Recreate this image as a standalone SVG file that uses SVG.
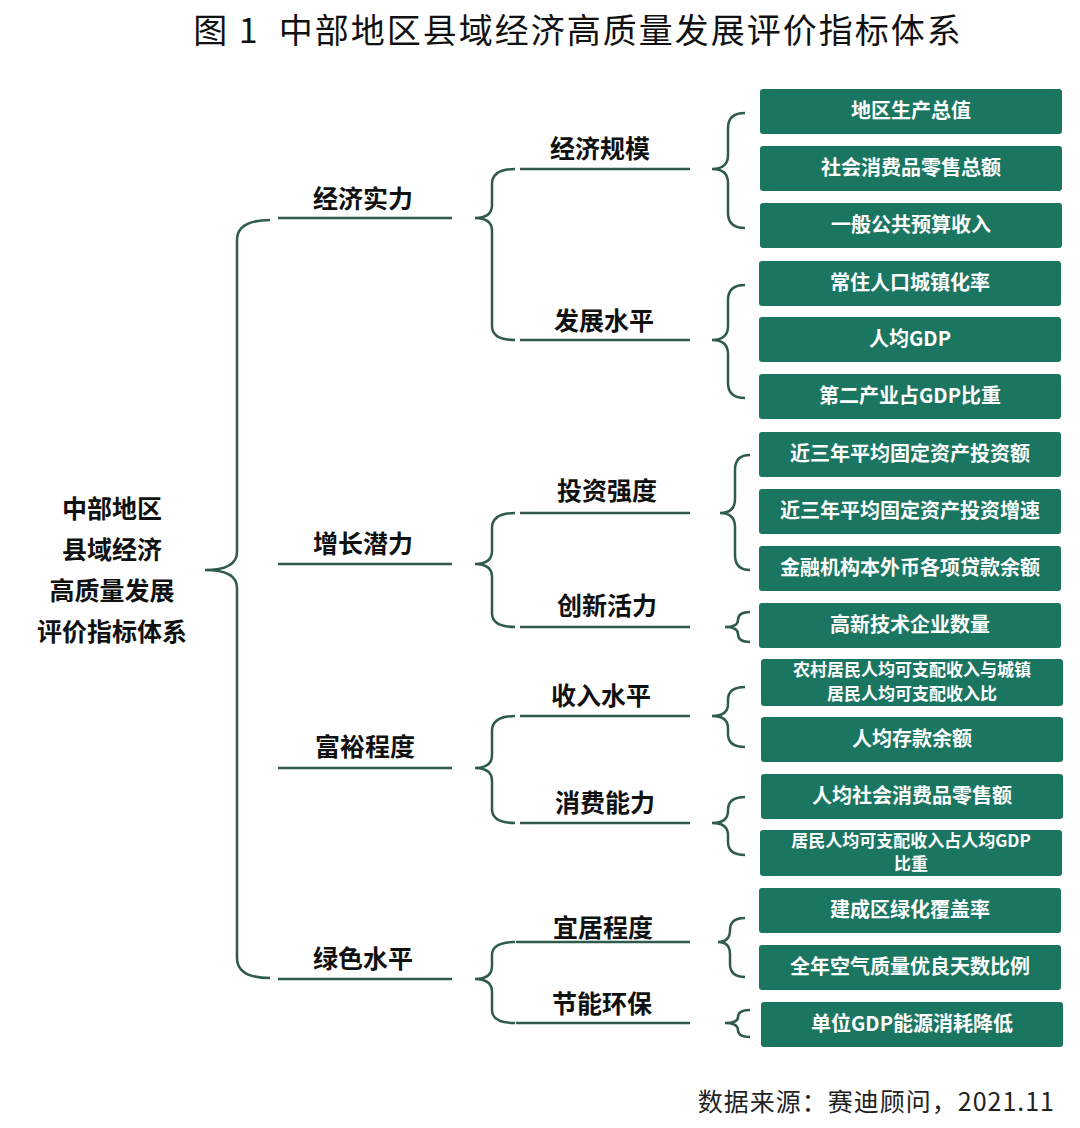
<svg xmlns="http://www.w3.org/2000/svg" width="1080" height="1128" viewBox="0 0 1080 1128">
<style>
.t{font-family:"Noto Sans CJK SC",sans-serif;font-weight:bold;fill:#111;text-anchor:middle}
.b{fill:#1b7661}
.bt{font-family:"Noto Sans CJK SC",sans-serif;font-weight:bold;fill:#fff;text-anchor:middle;font-size:20px}
.bs{font-size:17px}
.br{fill:none;stroke:#2f5a4e;stroke-width:2.5}
.ln{stroke:#2f5a4e;stroke-width:2.5}
</style>
<rect width="1080" height="1128" fill="#fff"/>
<text x="578" y="43" font-family="Noto Sans CJK SC,sans-serif" font-size="34" letter-spacing="2" text-anchor="middle" fill="#111" xml:space="preserve">图 1  中部地区县域经济高质量发展评价指标体系</text>
<g id="root" class="t" font-size="25"><text x="112" y="518">中部地区</text><text x="112" y="559">县域经济</text><text x="112" y="600">高质量发展</text><text x="112" y="641">评价指标体系</text></g>
<g id="connectors">
<path class="br" d="M270,220 Q237,220 237,240 L237,552 Q237,570 205,570 Q237,570 237,588 L237,958 Q237,978 270,978"/>
<line class="ln" x1="278" y1="218" x2="452" y2="218"/><line class="ln" x1="278" y1="564" x2="452" y2="564"/><line class="ln" x1="278" y1="768" x2="452" y2="768"/><line class="ln" x1="278" y1="979" x2="452" y2="979"/>
<path class="br" d="M515,169 Q492,169 492,184 L492,205 Q492,218 475,218 Q492,218 492,231 L492,326 Q492,340 515,340"/>
<path class="br" d="M515,513 Q492,513 492,528 L492,551 Q492,564 475,564 Q492,564 492,577 L492,613 Q492,627 515,627"/>
<path class="br" d="M515,716 Q492,716 492,731 L492,755 Q492,768 475,768 Q492,768 492,781 L492,809 Q492,823 515,823"/>
<path class="br" d="M515,942 Q492,942 492,955 L492,966 Q492,979 475,979 Q492,979 492,992 L492,1010 Q492,1023 515,1023"/>
<line class="ln" x1="520" y1="169" x2="690" y2="169"/><line class="ln" x1="520" y1="340" x2="690" y2="340"/><line class="ln" x1="520" y1="513" x2="690" y2="513"/><line class="ln" x1="520" y1="627" x2="690" y2="627"/><line class="ln" x1="520" y1="716" x2="690" y2="716"/><line class="ln" x1="520" y1="823" x2="690" y2="823"/><line class="ln" x1="516" y1="942" x2="690" y2="942"/><line class="ln" x1="516" y1="1023" x2="690" y2="1023"/>
<path class="br" d="M745,113 Q728,113 728,128 L728,155 Q728,169 712,169 Q728,169 728,183 L728,213 Q728,228 745,228"/>
<path class="br" d="M745,285 Q728,285 728,300 L728,326 Q728,340 712,340 Q728,340 728,354 L728,383 Q728,398 745,398"/>
<path class="br" d="M750,455 Q735,455 735,470 L735,499 Q735,513 720,513 Q735,513 735,527 L735,555 Q735,570 750,570"/>
<path class="br" d="M750,612 Q738,612 738,620 Q738,627 725,627 Q738,627 738,634 Q738,642 750,642"/>
<path class="br" d="M745,687 Q728,687 728,700 L728,704 Q728,716 712,716 Q728,716 728,728 L728,734 Q728,747 745,747"/>
<path class="br" d="M745,797 Q728,797 728,810 L728,811 Q728,823 712,823 Q728,823 728,835 L728,842 Q728,855 745,855"/>
<path class="br" d="M745,918 Q730,918 730,930 Q730,942 718,942 Q730,942 730,954 L730,964 Q730,977 745,977"/>
<path class="br" d="M750,1010 Q738,1010 738,1017 Q738,1023 725,1023 Q738,1023 738,1030 Q738,1037 750,1037"/>
</g>
<g class="t" font-size="25">
<text id="l1a" x="363" y="208">经济实力</text><text id="l1b" x="363" y="553">增长潜力</text><text id="l1c" x="365" y="756">富裕程度</text><text id="l1d" x="363" y="968">绿色水平</text>
<text id="l2a" x="600" y="158">经济规模</text><text id="l2b" x="604" y="330">发展水平</text><text id="l2c" x="607" y="500">投资强度</text><text id="l2d" x="607" y="615">创新活力</text><text id="l2e" x="601" y="705">收入水平</text><text id="l2f" x="605" y="812">消费能力</text><text id="l2g" x="603" y="937">宜居程度</text><text id="l2h" x="602" y="1013">节能环保</text>
</g>
<g id="b1"><rect class="b" x="760" y="89" width="302" height="45" rx="3"/><text class="bt" x="911" y="118">地区生产总值</text></g>
<g id="b2"><rect class="b" x="760" y="146" width="302" height="45" rx="3"/><text class="bt" x="911" y="175">社会消费品零售总额</text></g>
<g id="b3"><rect class="b" x="760" y="203" width="302" height="45" rx="3"/><text class="bt" x="911" y="232">一般公共预算收入</text></g>
<g id="b4"><rect class="b" x="759" y="261" width="302" height="45" rx="3"/><text class="bt" x="910" y="290">常住人口城镇化率</text></g>
<g id="b5"><rect class="b" x="759" y="317" width="302" height="45" rx="3"/><text class="bt" x="910" y="346">人均GDP</text></g>
<g id="b6"><rect class="b" x="759" y="374" width="302" height="45" rx="3"/><text class="bt" x="910" y="403">第二产业占GDP比重</text></g>
<g id="b7"><rect class="b" x="759" y="432" width="302" height="45" rx="3"/><text class="bt" x="910" y="461">近三年平均固定资产投资额</text></g>
<g id="b8"><rect class="b" x="759" y="489" width="302" height="45" rx="3"/><text class="bt" x="910" y="518">近三年平均固定资产投资增速</text></g>
<g id="b9"><rect class="b" x="759" y="546" width="302" height="45" rx="3"/><text class="bt" x="910" y="575">金融机构本外币各项贷款余额</text></g>
<g id="b10"><rect class="b" x="759" y="603" width="302" height="45" rx="3"/><text class="bt" x="910" y="632">高新技术企业数量</text></g>
<g id="b11"><rect class="b" x="761" y="659" width="302" height="47" rx="3"/><text class="bt bs" x="912" y="676">农村居民人均可支配收入与城镇</text><text class="bt bs" x="912" y="700">居民人均可支配收入比</text></g>
<g id="b12"><rect class="b" x="761" y="717" width="302" height="45" rx="3"/><text class="bt" x="912" y="746">人均存款余额</text></g>
<g id="b13"><rect class="b" x="761" y="774" width="302" height="45" rx="3"/><text class="bt" x="912" y="803">人均社会消费品零售额</text></g>
<g id="b14"><rect class="b" x="760" y="830" width="302" height="46" rx="3"/><text class="bt bs" x="911" y="847">居民人均可支配收入占人均GDP</text><text class="bt bs" x="911" y="870">比重</text></g>
<g id="b15"><rect class="b" x="759" y="888" width="302" height="45" rx="3"/><text class="bt" x="910" y="917">建成区绿化覆盖率</text></g>
<g id="b16"><rect class="b" x="759" y="945" width="302" height="45" rx="3"/><text class="bt" x="910" y="974">全年空气质量优良天数比例</text></g>
<g id="b17"><rect class="b" x="761" y="1002" width="302" height="45" rx="3"/><text class="bt" x="912" y="1031">单位GDP能源消耗降低</text></g>
<text x="1055" y="1111" font-family="Noto Sans CJK SC,sans-serif" font-size="25" letter-spacing="1" text-anchor="end" fill="#222">数据来源：赛迪顾问，2021.11</text>
</svg>
